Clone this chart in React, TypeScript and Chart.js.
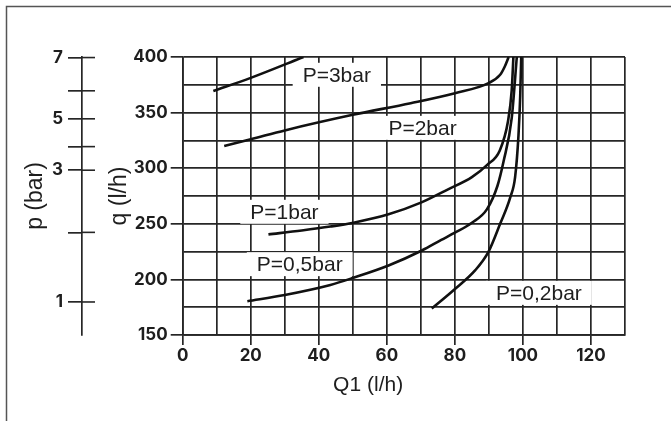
import { useEffect, useRef } from 'react';
import { Chart, registerables } from 'chart.js';

Chart.register(...registerables);

// ---- data ----
// P = 3 bar
const p3Q1 = [9, 19.8, 35.5];
const p3Q = [369.5, 381, 400];
// P = 2 bar
const p2Q1 = [12.2, 20, 30, 50, 67, 80, 89.9, 93.3, 94.6, 95.8];
const p2Q = [320, 326, 334, 348, 358.5, 367.5, 376.5, 384, 391, 400];
// P = 1 bar
const p1Q1 = [25.2, 35, 43.4, 50.2, 60.5, 70, 78, 85, 89.5, 93.2, 95.6, 96.7, 97.2];
const p1Q = [240.5, 244, 247.5, 251, 258.5, 269, 281, 292, 303, 316, 342, 370, 400];
// P = 0,5 bar
const p05Q1 = [19, 30, 43.4, 50.2, 60.5, 70.3, 76, 80, 85, 89.4, 92.5, 94.3, 96.7, 98.2];
const p05Q = [180.4, 186, 195, 201.5, 212.5, 226, 235.5, 242, 251, 263, 284, 306, 345, 400];
// P = 0,2 bar
const p02Q1 = [73.2, 79.6, 86, 89.9, 93.3, 96.3, 97.7, 98.7, 99.2, 99.5];
const p02Q = [173.8, 190.3, 208.3, 225, 250, 274, 292, 330, 365, 400];

// curve labels
const labelTexts = ['P=3bar', 'P=2bar', 'P=1bar', 'P=0,5bar', 'P=0,2bar'];
const labelQ1 = [45.3, 70.5, 29.9, 34.4, 104.7];
const labelQ = [384, 336.3, 260.8, 213.7, 187.9];

// p (bar) auxiliary scale: tick values and the q level each one sits at
const pValues = [1, 2, 3, 4, 5, 6, 7];
const pAtQ = [179.7, 242.3, 298.2, 319.4, 344.4, 369.6, 399.5];
const pLabelled = [1, 3, 5, 7];

// axes
const q1Min = 0;
const q1Max = 130;
const q1Step = 10;
const q1LabelStep = 20;
const qMin = 150;
const qMax = 400;
const qStep = 25;
const qLabelStep = 50;

const INK = '#1e1e1e';
const GRID = '#262626';
const TICK_FONT = { family: 'Inter, "Liberation Sans", Arial, sans-serif', size: 17, weight: 'bold' as const };
const TEXT_FONT = '"Liberation Sans", Arial, Helvetica, sans-serif';

const pts = (xs: number[], ys: number[]) => xs.map((x, i) => ({ x, y: ys[i] }));

export default function App() {
  const ref = useRef<HTMLCanvasElement | null>(null);

  useEffect(() => {
    if (!ref.current) return;

    const framePlugin = {
      id: 'frame',
      beforeDraw(chart: any) {
        const ctx = chart.ctx;
        ctx.save();
        ctx.strokeStyle = '#555';
        ctx.lineWidth = 1.5;
        ctx.beginPath();
        ctx.moveTo(6.5, chart.height);
        ctx.lineTo(6.5, 6.5);
        ctx.lineTo(chart.width, 6.5);
        ctx.stroke();
        ctx.restore();
      },
    };

    const labelPlugin = {
      id: 'curveLabels',
      beforeDatasetsDraw(chart: any) {
        const ctx = chart.ctx;
        const xs = chart.scales.x;
        const ys = chart.scales.y;
        ctx.save();
        ctx.font = `21px ${TEXT_FONT}`;
        ctx.textAlign = 'center';
        ctx.textBaseline = 'middle';
        labelTexts.forEach((t, i) => {
          const cx = xs.getPixelForValue(labelQ1[i]);
          const cy = ys.getPixelForValue(labelQ[i]);
          const w = ctx.measureText(t).width;
          ctx.fillStyle = '#ffffff';
          ctx.fillRect(cx - w / 2 - 10, cy - 12, w + 20, 24);
          ctx.fillStyle = INK;
          ctx.fillText(t, cx, cy + 1);
        });
        ctx.restore();
      },
    };

    const extrasPlugin = {
      id: 'extras',
      afterDraw(chart: any) {
        const ctx = chart.ctx;
        const ps = chart.scales.p;
        const xs = chart.scales.x;
        ctx.save();
        // right halves of the crossing p ticks
        ctx.strokeStyle = GRID;
        ctx.lineWidth = 1.6;
        ps.ticks.forEach((t: any) => {
          const y = ps.getPixelForValue(t.value);
          ctx.beginPath();
          ctx.moveTo(ps.right, y);
          ctx.lineTo(ps.right + 13, y);
          ctx.stroke();
        });
        // x axis title
        ctx.fillStyle = INK;
        ctx.font = `21px ${TEXT_FONT}`;
        ctx.textAlign = 'center';
        ctx.textBaseline = 'middle';
        ctx.fillText('Q1 (l/h)', xs.getPixelForValue(54.5), chart.chartArea.bottom + 50);
        ctx.restore();
      },
    };

    const lineStyle = {
      borderColor: '#111',
      borderWidth: 2.6,
      pointRadius: 0,
      fill: false,
      cubicInterpolationMode: 'monotone' as const,
    };

    const chart = new Chart(ref.current, {
      type: 'line',
      data: {
        datasets: [
          { label: 'P=3bar', data: pts(p3Q1, p3Q), ...lineStyle },
          { label: 'P=2bar', data: pts(p2Q1, p2Q), ...lineStyle },
          { label: 'P=1bar', data: pts(p1Q1, p1Q), ...lineStyle },
          { label: 'P=0,5bar', data: pts(p05Q1, p05Q), ...lineStyle },
          { label: 'P=0,2bar', data: pts(p02Q1, p02Q), ...lineStyle },
        ],
      },
      options: {
        animation: false,
        responsive: true,
        maintainAspectRatio: false,
        layout: { padding: { left: 0, top: 57, right: 46, bottom: 46 } },
        plugins: { legend: { display: false }, tooltip: { enabled: false } },
        scales: {
          x: {
            type: 'linear',
            min: q1Min,
            max: q1Max,
            afterFit: (s: any) => { s.height = 40; },
            ticks: {
              stepSize: q1Step,
              autoSkip: false,
              maxRotation: 0,
              padding: 1,
              color: INK,
              font: TICK_FONT,
              callback: (v: any) => (Number(v) % q1LabelStep === 0 ? String(v) : ''),
            },
            grid: {
              color: GRID,
              lineWidth: 1.7,
              tickLength: 10,
              tickColor: (c: any) => (c.tick && c.tick.value % q1LabelStep === 0 ? GRID : 'rgba(0,0,0,0)'),
            },
            border: { color: GRID, width: 1.7 },
          },
          y: {
            type: 'linear',
            position: 'left',
            weight: 0,
            min: qMin,
            max: qMax,
            afterFit: (s: any) => { s.width = 100.7; },
            ticks: {
              stepSize: qStep,
              autoSkip: false,
              padding: 3,
              color: INK,
              font: TICK_FONT,
              callback: (v: any) => (Number(v) % qLabelStep === 0 ? String(v) : ''),
            },
            grid: {
              color: GRID,
              lineWidth: 1.7,
              tickLength: 12,
              tickColor: (c: any) => (c.tick && c.tick.value % qLabelStep === 0 ? GRID : 'rgba(0,0,0,0)'),
            },
            border: { color: GRID, width: 1.7 },
            title: {
              display: true,
              text: 'q (l/h)',
              color: INK,
              font: { family: TEXT_FONT, size: 23 },
              padding: { top: 24.2, bottom: 0 },
            },
          },
          p: {
            type: 'linear',
            position: 'left',
            weight: 1,
            min: qMin,
            max: qMax,
            afterFit: (s: any) => { s.width = 82; },
            afterBuildTicks: (s: any) => {
              s.ticks = pAtQ.map((q) => ({ value: q }));
            },
            ticks: {
              autoSkip: false,
              padding: 5,
              color: INK,
              font: TICK_FONT,
              callback: (_v: any, i: number) => {
                const p = pValues[i];
                return pLabelled.includes(p) ? String(p) : '';
              },
            },
            grid: {
              drawOnChartArea: false,
              color: GRID,
              lineWidth: 1.7,
              tickLength: 14,
              tickColor: GRID,
            },
            border: { color: GRID, width: 1.7 },
            title: {
              display: true,
              text: 'p (bar)',
              color: INK,
              font: { family: TEXT_FONT, size: 23 },
              padding: { top: 22.2, bottom: 0 },
            },
          },
        },
      },
      plugins: [framePlugin, labelPlugin, extrasPlugin],
    } as any);

    return () => chart.destroy();
  }, []);

  return (
    <div style={{ position: 'fixed', left: 0, top: 0, width: 671, height: 421, background: '#fff' }}>
      <canvas ref={ref} />
    </div>
  );
}
